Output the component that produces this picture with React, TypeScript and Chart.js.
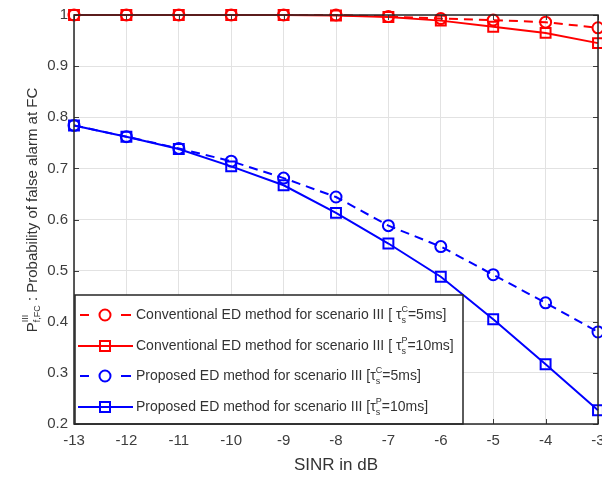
import React, { useEffect, useRef } from 'react';
import { Chart, registerables } from 'chart.js';
Chart.register(...registerables);

const sinrDb = [-13, -12, -11, -10, -9, -8, -7, -6, -5, -4, -3];
const convC5 = [1.0, 1.0, 1.0, 1.0, 1.0, 1.0, 0.997, 0.993, 0.99, 0.986, 0.975];
const convP10 = [1.0, 1.0, 1.0, 1.0, 1.0, 0.999, 0.996, 0.989, 0.977, 0.965, 0.945];
const propC5 = [0.784, 0.762, 0.739, 0.714, 0.681, 0.644, 0.588, 0.547, 0.492, 0.437, 0.38];
const propP10 = [0.784, 0.762, 0.738, 0.704, 0.667, 0.613, 0.553, 0.488, 0.405, 0.317, 0.227];
const legendPrefixes = [
  'Conventional ED method for scenario III [ ',
  'Conventional ED method for scenario III [ ',
  'Proposed ED method for scenario III [',
  'Proposed ED method for scenario III [',
];
const legendSup = ['C', 'P', 'C', 'P'];
const legendSuffix = ['=5ms]', '=10ms]', '=5ms]', '=10ms]'];
const xTitle = 'SINR in dB';
const yTitleMain = ' : Probability of false alarm at FC';

const FONT = '"Liberation Sans", Arial, sans-serif';
const AX = '#3d3d3d';

type Seg = { t: string; size: number; dy?: number; stack?: boolean };

function drawRich(ctx: CanvasRenderingContext2D, x: number, y: number, segs: Seg[]) {
  let cx = x;
  let lastW = 0;
  for (const s of segs) {
    ctx.font = `${s.size}px ${FONT}`;
    const w = ctx.measureText(s.t).width;
    const startX = s.stack ? cx - lastW : cx;
    ctx.fillText(s.t, startX, y + (s.dy || 0));
    if (s.stack) {
      cx = Math.max(cx, startX + w);
    } else {
      cx = startX + w;
      lastW = w;
    }
  }
  return cx;
}

const overlayPlugin = {
  id: 'overlay',
  afterDraw(chart: any) {
    const ctx: CanvasRenderingContext2D = chart.ctx;
    const { left, right, top, bottom } = chart.chartArea;
    const xs = chart.scales.x;
    const ys = chart.scales.y;
    ctx.save();
    // inward ticks
    ctx.strokeStyle = AX;
    ctx.lineWidth = 1;
    ctx.beginPath();
    for (const v of sinrDb) {
      const px = Math.round(xs.getPixelForValue(v)) + 0.5;
      ctx.moveTo(px, bottom);
      ctx.lineTo(px, bottom - 5);
      ctx.moveTo(px, top);
      ctx.lineTo(px, top + 5);
    }
    for (const t of ys.ticks) {
      const py = Math.round(ys.getPixelForValue(t.value)) + 0.5;
      ctx.moveTo(left, py);
      ctx.lineTo(left + 5, py);
      ctx.moveTo(right, py);
      ctx.lineTo(right - 5, py);
    }
    ctx.stroke();

    // legend
    const lx0 = left, lx1 = 463, ly0 = 295, ly1 = bottom;
    ctx.fillStyle = '#ffffff';
    ctx.fillRect(lx0, ly0, lx1 - lx0, ly1 - ly0);
    ctx.strokeStyle = '#262626';
    ctx.lineWidth = 1.5;
    ctx.strokeRect(lx0 + 1, ly0, lx1 - lx0 - 1, ly1 - ly0);
    const rows = [315, 346, 376, 407];
    chart.data.datasets.forEach((ds: any, i: number) => {
      const ry = rows[i];
      ctx.strokeStyle = ds.borderColor;
      ctx.lineWidth = 2;
      ctx.beginPath();
      if (ds.borderDash && ds.borderDash.length) {
        ctx.moveTo(80, ry);
        ctx.lineTo(89, ry);
        ctx.moveTo(121, ry);
        ctx.lineTo(131, ry);
      } else {
        ctx.moveTo(78, ry);
        ctx.lineTo(133, ry);
      }
      ctx.stroke();
      ctx.lineWidth = 2;
      ctx.beginPath();
      if (ds.pointStyle === 'rect') {
        ctx.rect(105 - 5, ry - 5, 10, 10);
      } else {
        ctx.arc(105, ry, 5.5, 0, Math.PI * 2);
      }
      ctx.fillStyle = ds.pointBackgroundColor;
      ctx.fill();
      ctx.stroke();
      ctx.fillStyle = '#333333';
      ctx.textBaseline = 'middle';
      ctx.textAlign = 'left';
      drawRich(ctx, 136, ry, [
        { t: legendPrefixes[i], size: 14 },
        { t: 'τ', size: 14 },
        { t: legendSup[i], size: 9, dy: -5 },
        { t: 's', size: 9, dy: 6, stack: true },
        { t: legendSuffix[i], size: 14 },
      ]);
    });

    // axes box
    ctx.strokeStyle = '#262626';
    ctx.lineWidth = 1.5;
    ctx.strokeRect(left, top, right - left, bottom - top);

    // x tick labels
    ctx.fillStyle = AX;
    ctx.font = `15px ${FONT}`;
    ctx.textAlign = 'center';
    ctx.textBaseline = 'middle';
    for (const v of sinrDb) {
      ctx.fillText(String(v), xs.getPixelForValue(v), 441);
    }

    // x title
    ctx.fillStyle = '#333333';
    ctx.font = `17px ${FONT}`;
    ctx.fillText(xTitle, (left + right) / 2, 465);

    // y title
    ctx.translate(33, 210);
    ctx.rotate(-Math.PI / 2);
    ctx.textAlign = 'left';
    ctx.font = `15px ${FONT}`;
    const mainW = ctx.measureText(yTitleMain).width;
    const pW = ctx.measureText('P').width;
    ctx.font = `9px ${FONT}`;
    const subW = Math.max(ctx.measureText('III').width, ctx.measureText('f,FC').width);
    const total = pW + subW + mainW;
    drawRich(ctx, -total / 2, 0, [
      { t: 'P', size: 15 },
      { t: 'III', size: 9, dy: -7 },
      { t: 'f,FC', size: 9, dy: 5, stack: true },
      { t: yTitleMain, size: 15 },
    ]);
    ctx.restore();
  },
};

export default function App() {
  const ref = useRef<HTMLCanvasElement>(null);
  useEffect(() => {
    if (!ref.current) return;
    const mk = (label: string, data: number[], color: string, dashed: boolean, style: string) => ({
      label,
      data: sinrDb.map((x, i) => ({ x, y: data[i] })),
      borderColor: color,
      backgroundColor: color,
      pointBackgroundColor: 'rgba(255,255,255,0)',
      pointBorderColor: color,
      pointBorderWidth: 2,
      pointStyle: style,
      pointRadius: style === 'rect' ? 7 : 5.5,
      borderWidth: 2,
      borderDash: dashed ? [9, 6] : [],
      clip: false,
      tension: 0,
    });
    const chart = new Chart(ref.current, {
      type: 'line',
      data: {
        datasets: [
          mk('conv C 5ms', convC5, '#ff0000', true, 'circle'),
          mk('conv P 10ms', convP10, '#ff0000', false, 'rect'),
          mk('prop C 5ms', propC5, '#0000ff', true, 'circle'),
          mk('prop P 10ms', propP10, '#0000ff', false, 'rect'),
        ] as any,
      },
      options: {
        animation: false,
        responsive: false,
        devicePixelRatio: 1,
        layout: { autoPadding: false, padding: { top: 15, right: 4, left: 0, bottom: 0 } },
        plugins: { legend: { display: false }, tooltip: { enabled: false } },
        scales: {
          x: {
            type: 'linear',
            min: -13,
            max: -3,
            ticks: { stepSize: 1, display: false },
            grid: { color: '#e2e2e2', drawTicks: false, lineWidth: 1 },
            border: { display: false },
            afterFit: (s: any) => { s.height = 57; },
          },
          y: {
            min: 0.2,
            max: 1,
            ticks: {
              stepSize: 0.1,
              color: AX,
              font: { family: FONT, size: 15 },
              padding: 6,
              callback: (v: any) => (Math.abs(v - 1) < 1e-9 ? '1' : Number(v).toFixed(1)),
            },
            grid: { color: '#e2e2e2', drawTicks: false, lineWidth: 1 },
            border: { display: false },
            afterFit: (s: any) => { s.width = 74; },
          },
        },
      } as any,
      plugins: [overlayPlugin],
    });
    return () => chart.destroy();
  }, []);
  return (
    <div style={{ position: 'absolute', left: 0, top: 0, width: 602, height: 481, background: '#fff' }}>
      <canvas ref={ref} width={602} height={481} style={{ display: 'block' }} />
    </div>
  );
}
